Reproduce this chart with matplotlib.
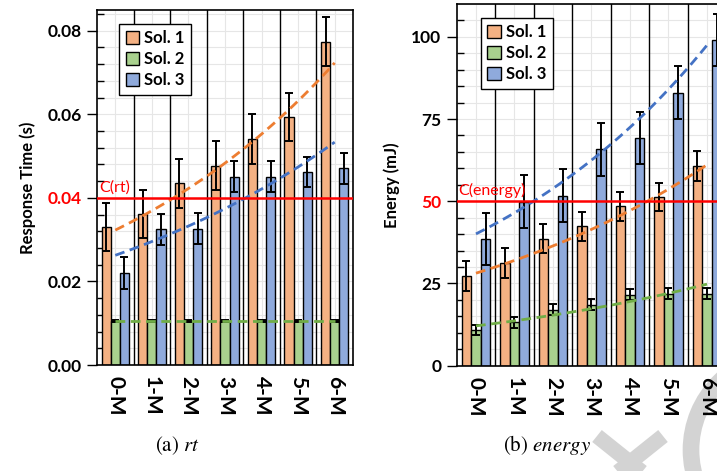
import numpy as np
import matplotlib
matplotlib.use("Agg")
import matplotlib.pyplot as plt
from matplotlib.lines import Line2D
from matplotlib.patches import Arc

# data
cats = ["0-M", "1-M", "2-M", "3-M", "4-M", "5-M", "6-M"]
sols = ["Sol. 1", "Sol. 2", "Sol. 3"]

rt_sol1 = [0.0330, 0.0362, 0.0435, 0.0477, 0.0541, 0.0593, 0.0774]
rt_sol1_err = [0.0058, 0.0058, 0.0059, 0.0058, 0.0059, 0.0058, 0.0059]
rt_sol2 = [0.0105, 0.0105, 0.0105, 0.0105, 0.0105, 0.0105, 0.0105]
rt_sol2_err = [0.0002, 0.0002, 0.0002, 0.0002, 0.0002, 0.0002, 0.0002]
rt_sol3 = [0.0220, 0.0325, 0.0326, 0.0451, 0.0451, 0.0461, 0.0471]
rt_sol3_err = [0.0038, 0.0037, 0.0037, 0.0037, 0.0037, 0.0036, 0.0037]
rt_limit = 0.04

en_sol1 = [27.3, 31.2, 38.6, 42.4, 48.5, 51.3, 60.7]
en_sol1_err = [4.5, 4.5, 4.4, 4.4, 4.4, 4.4, 4.5]
en_sol2 = [10.9, 13.2, 17.0, 18.5, 21.6, 21.9, 21.9]
en_sol2_err = [1.6, 1.7, 1.7, 1.7, 1.6, 1.6, 1.6]
en_sol3 = [38.5, 49.9, 51.7, 65.8, 69.3, 83.0, 99.1]
en_sol3_err = [7.9, 8.0, 8.0, 8.0, 7.9, 8.0, 7.9]
en_limit = 50

fill_cols = ["#F4B183", "#A9D18E", "#8FAADC"]
line_cols = ["#ED7D31", "#70AD47", "#4472C4"]

plt.rcParams['font.family'] = ['Lato', 'DejaVu Sans']
plt.rcParams['mathtext.fontset'] = 'stix'

fig = plt.figure(figsize=(7.17, 4.71), dpi=100)
ax1 = fig.add_axes([0.1353, 0.225, 0.357, 0.754])
ax2 = fig.add_axes([0.637, 0.2236, 0.3759, 0.768])


def draw_panel(ax, vals, errs, limit, ymax, step, minor, lab, clab, fmt, leg_anchor):
    x = np.arange(len(cats))
    offs = [-0.25, 0, 0.25]
    # light grid + black group separators
    for yy in np.arange(0, ymax + 1e-9, minor):
        ax.axhline(yy, color="#e6e6e6", lw=0.8, zorder=0)
    for xx in x:
        ax.axvline(xx, color="#e6e6e6", lw=0.8, zorder=0)
    for xx in x[:-1] + 0.5:
        ax.axvline(xx, color="black", lw=1.0, zorder=1)
    for i in range(3):
        ax.bar(x + offs[i], vals[i], 0.25, color=fill_cols[i], edgecolor="black",
               lw=1.0, label=sols[i], zorder=2)
        ax.errorbar(x + offs[i], vals[i], yerr=errs[i], fmt="none", ecolor="black",
                    elinewidth=1.4, capsize=3, capthick=1.4, zorder=3)
    # exponential trend lines (fit on the values)
    xs = np.linspace(0, 6, 100)
    for i in range(3):
        b, a = np.polyfit(x, np.log(vals[i]), 1)
        ax.plot(xs, np.exp(a + b * xs), ls=(0, (3.5, 2)), color=line_cols[i], lw=2, zorder=4)
    ax.axhline(limit, color="red", lw=1.8, zorder=5)
    ax.text(-0.45, limit + ymax * 0.008, clab, color="red", fontsize=11.5,
            ha="left", va="bottom", zorder=6)

    ax.set_xlim(-0.5, 6.5)
    ax.set_ylim(0, ymax)
    ax.set_xticks(x)
    ax.set_xticklabels(cats, rotation=-90, fontsize=15, fontweight="bold")
    ax.tick_params(axis="x", length=0, pad=8)
    ticks = np.arange(0, ymax, step)
    ax.set_yticks(ticks)
    ax.set_yticklabels([fmt.format(t) for t in ticks], fontsize=12.5, fontweight="bold")
    ax.set_yticks(np.arange(0, ymax, minor), minor=True)
    ax.tick_params(axis="y", which="major", direction="out", length=7, width=1, pad=4)
    ax.tick_params(axis="y", which="minor", direction="in", length=5, width=1)
    for t, lbl in zip(ticks, ax.get_yticklabels()):
        if abs(t - limit) < 1e-9:
            lbl.set_color("red")
    ax.set_ylabel(lab, fontsize=12, fontweight="bold", labelpad=8)
    for s in ax.spines.values():
        s.set_linewidth(1.2)
    leg = ax.legend(loc="upper left", bbox_to_anchor=leg_anchor,
                    prop={"size": 12, "weight": "bold"},
                    fancybox=False, framealpha=1, edgecolor="black", handlelength=0.8,
                    handleheight=0.8, handletextpad=0.3, borderpad=0.4, labelspacing=0.3)
    leg.get_frame().set_linewidth(1.0)
    leg.set_zorder(10)


draw_panel(ax1, [rt_sol1, rt_sol2, rt_sol3], [rt_sol1_err, rt_sol2_err, rt_sol3_err],
           rt_limit, 0.085, 0.02, 0.004, "Response Time (s)", "C(rt)", "{:.2f}", (0.055, 0.985))
draw_panel(ax2, [en_sol1, en_sol2, en_sol3], [en_sol1_err, en_sol2_err, en_sol3_err],
           en_limit, 110, 25, 5, "Energy (mJ)", "C(energy)", "{:.0f}", (0.058, 0.985))

fig.text(0.248, 0.0425, "(a) $\\mathit{rt}$", family="STIXGeneral",
         fontsize=15, ha="center", va="baseline")
fig.text(0.763, 0.0425, "(b) $\\mathit{energy}$", family="STIXGeneral",
         fontsize=15, ha="center", va="baseline")

# grey watermark in the lower right corner
W, H = 717.0, 471.0
wm = "#d3d3d3"
for (x0, y0, x1, y1) in [(597, 436, 652, 480), (663, 436, 608, 480)]:
    fig.add_artist(Line2D([x0 / W, x1 / W], [1 - y0 / H, 1 - y1 / H], color=wm,
                          lw=11, solid_capstyle="butt", zorder=-1))
fig.add_artist(Arc((787 / W, 1 - 450 / H), 2 * 96 / W, 2 * 96 / H, color=wm,
                   lw=12, zorder=-1, transform=fig.transFigure))

fig.savefig("out.png", dpi=100)
